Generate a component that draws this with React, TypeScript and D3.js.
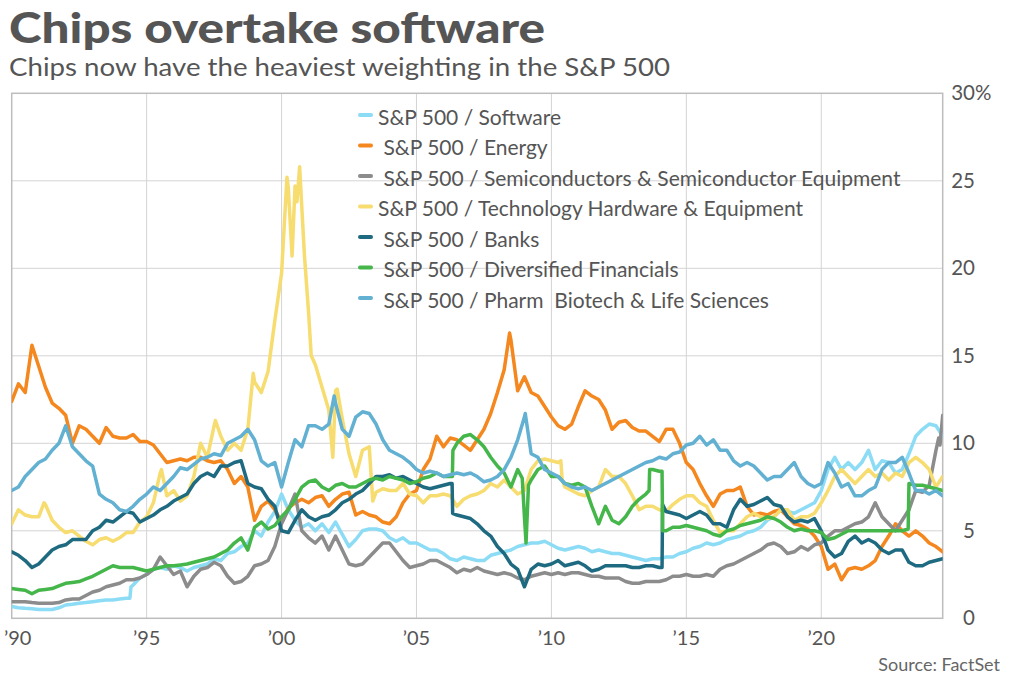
import React from "react";
import * as d3 from "d3";

// ---- data (S&P 500 weights, %) ----
const quarters: number[] = d3.range(0, 139).map((i) => 1990 + i * 0.25);

const softwareVals = [
  0.67, 0.6, 0.57, 0.55, 0.5, 0.5, 0.5, 0.6, 0.76, 0.8, 0.86, 0.9, 0.95, 1.0, 1.05, 1.05,
  1.1, 1.15, 1.9, 2.3, 2.5, 2.8, 2.9, 2.8, 3.0, 2.9, 2.7, 2.9, 3.0, 3.1, 3.4, 3.3,
  3.7, 3.8, 4.1, 4.3, 5.0, 4.7, 5.5, 6.1, 7.1, 6.2, 5.6, 5.2, 5.4, 5.0, 5.4, 4.9,
  5.5, 4.8, 4.1, 4.5, 5.0, 5.1, 5.1, 5.0, 4.6, 4.4, 4.6, 4.3, 4.3, 4.1, 3.9, 3.9,
  3.7, 3.4, 3.3, 3.5, 3.4, 3.3, 3.3, 3.6, 3.7, 3.8, 3.9, 4.1, 4.2, 4.3, 4.3, 4.4,
  4.2, 4.0, 3.9, 4.0, 4.1, 4.0, 3.8, 3.9, 3.8, 3.7, 3.7, 3.6, 3.5, 3.4, 3.3, 3.4,
  3.4, 3.5, 3.5, 3.7, 3.8, 4.0, 4.1, 4.3, 4.2, 4.3, 4.5, 4.6, 4.7, 4.9, 5.0, 5.2,
  5.6, 5.8, 6.2, 6.1, 6.0, 6.2, 6.4, 6.6, 7.3, 8.5, 9.2, 8.5, 8.9, 8.5, 8.9, 9.6,
  8.5, 9.0, 8.9, 8.3, 8.5, 9.4, 10.4, 10.8, 11.1, 11.0, 10.4,
];
const softwareExtra: [number, number][] = [[1994.38, 1.15], [1994.42, 1.8]];

const energyVals = [
  12.4, 13.4, 12.9, 15.6, 14.4, 13.2, 12.3, 12.0, 11.6, 10.0, 11.0, 10.8, 10.4, 10.0, 10.9, 10.4,
  10.3, 10.3, 10.5, 10.1, 10.1, 9.9, 9.4, 8.9, 9.0, 9.1, 9.0, 9.2, 9.2, 9.0, 8.9, 9.0,
  8.5, 7.7, 8.1, 7.5, 5.6, 6.4, 6.7, 6.2, 5.5, 6.3, 6.6, 6.8, 6.6, 6.9, 7.0, 6.4,
  6.8, 7.1, 7.2, 5.9, 6.1, 5.9, 5.8, 5.5, 5.4, 5.8, 6.6, 7.1, 7.3, 8.5, 9.1, 10.4,
  9.8, 10.3, 10.2, 9.9, 9.6, 10.2, 10.8, 11.7, 12.9, 14.2, 15.9, 13.0, 13.8, 12.9, 12.7, 12.1,
  11.5, 11.0, 10.8, 11.1, 12.1, 13.0, 12.7, 12.5, 11.9, 10.8, 11.2, 11.3, 10.9, 10.7, 10.7, 10.4,
  10.1, 10.8, 10.8, 10.0, 8.9, 8.5, 7.7, 7.0, 6.4, 7.1, 7.3, 7.3, 7.5, 6.4, 5.9, 6.0,
  5.9, 6.1, 6.2, 5.8, 5.4, 5.3, 5.1, 4.7, 4.1, 2.8, 3.1, 2.2, 2.8, 2.9, 2.8, 3.0,
  3.3, 4.1, 4.7, 5.4, 5.0, 4.7, 5.0, 4.7, 4.3, 4.1, 3.8,
];
const energyExtra: [number, number][] = [[2008.45, 16.3]];

const semisVals = [
  0.95, 0.95, 0.95, 0.9, 0.86, 0.86, 0.86, 0.9, 1.05, 1.1, 1.1, 1.3, 1.5, 1.6, 1.8, 1.9,
  2.0, 2.2, 2.2, 2.3, 2.5, 2.8, 3.5, 3.0, 2.5, 2.7, 1.8, 2.4, 2.8, 2.9, 3.2, 3.0,
  2.4, 2.0, 2.1, 2.4, 3.0, 3.1, 3.3, 4.1, 5.4, 6.2, 7.1, 5.0, 4.6, 4.3, 4.7, 3.9,
  4.7, 3.9, 3.1, 3.0, 3.1, 3.5, 3.9, 4.3, 4.3, 3.8, 3.3, 2.9, 3.0, 3.1, 3.3, 3.3,
  3.1, 2.9, 2.6, 2.8, 2.7, 2.9, 2.7, 2.6, 2.5, 2.6, 2.5, 2.3, 2.2, 2.4, 2.5, 2.6,
  2.5, 2.6, 2.5, 2.6, 2.6, 2.5, 2.4, 2.4, 2.3, 2.3, 2.3, 2.1, 2.0, 2.0, 2.1, 2.1,
  2.1, 2.2, 2.4, 2.4, 2.5, 2.4, 2.4, 2.5, 2.4, 2.8, 3.0, 3.1, 3.3, 3.5, 3.7, 3.9,
  4.2, 4.3, 4.1, 3.7, 3.8, 4.1, 3.9, 4.2, 4.3, 4.7, 5.0, 5.0, 5.2, 5.4, 5.5, 5.8,
  6.6, 5.8, 5.4, 5.0, 5.6, 6.2, 7.3, 7.2, 7.6, 9.6, 11.6,
];
const semisExtra: [number, number][] = [[2024.35, 10.3], [2024.4, 9.9]];

const techVals = [
  5.4, 6.2, 5.9, 5.8, 5.8, 6.5, 5.6, 5.2, 4.9, 5.0, 4.7, 4.4, 4.2, 4.5, 4.6, 4.4,
  4.6, 4.9, 4.9, 5.5, 5.8, 6.6, 8.3, 7.0, 7.3, 6.7, 7.0, 8.1, 10.0, 9.2, 11.0, 10.4,
  9.6, 10.0, 9.6, 10.8, 13.5, 12.9, 14.1, 17.0, 19.7, 24.6, 24.7, 23.5, 17.5, 14.5, 13.2, 11.9,
  13.0, 11.4, 9.4, 8.1, 9.6, 9.8, 7.2, 7.4, 7.3, 7.3, 7.7, 7.1, 7.0, 6.6, 7.0, 7.0,
  7.1, 7.0, 6.4, 6.8, 7.0, 7.1, 7.3, 7.7, 7.5, 7.9, 7.5, 7.1, 7.3, 8.5, 9.0, 9.1,
  9.0, 8.9, 7.5, 7.3, 7.1, 7.0, 7.3, 7.5, 8.5, 8.1, 8.1, 7.7, 7.0, 6.2, 6.4, 6.4,
  6.2, 6.1, 6.5, 6.8, 7.0, 7.0, 6.6, 6.4, 5.6, 4.9, 5.0, 5.0, 5.4, 5.8, 6.0, 5.8,
  5.7, 5.8, 6.2, 6.2, 5.6, 5.8, 5.8, 6.0, 6.6, 7.3, 8.1, 8.5, 8.1, 7.7, 8.1, 8.5,
  8.1, 8.3, 7.9, 8.3, 8.1, 8.9, 9.2, 8.9, 8.5, 7.5, 8.1,
];
const techExtra: [number, number][] = [
  [1991.2, 6.6], [1995.55, 8.5], [1997.55, 11.3], [1998.95, 14.0],
  [2000.2, 25.2], [2000.39, 20.7], [2000.57, 23.8], [2000.67, 25.8], [2000.85, 20.7],
  [2001.1, 15.0], [2001.9, 9.2], [2002.06, 13.1], [2003.38, 6.7], [2010.35, 9.0], [2010.4, 7.9],
];

const banksVals = [
  3.8, 3.6, 3.3, 2.9, 3.1, 3.5, 3.9, 4.1, 4.2, 4.5, 4.5, 4.5, 5.0, 5.2, 5.6, 5.5,
  5.8, 6.1, 6.0, 5.5, 5.7, 5.9, 6.2, 6.4, 6.7, 6.9, 7.1, 7.7, 8.1, 8.3, 8.1, 8.7,
  8.7, 8.9, 9.0, 7.7, 7.5, 7.4, 6.8, 6.4, 5.0, 4.9, 5.6, 6.2, 5.8, 5.6, 5.8, 5.9,
  6.2, 6.6, 6.8, 7.1, 7.3, 7.7, 8.1, 8.1, 8.2, 8.0, 8.1, 7.9, 7.7, 7.5, 7.4, 7.5,
  7.6, 7.7, 5.9, 5.8, 5.7, 5.4, 5.0, 4.7, 4.1, 3.7, 3.1, 2.8, 1.8, 2.8, 3.1, 3.0,
  3.1, 3.3, 3.0, 3.1, 3.2, 3.0, 2.7, 2.8, 3.0, 3.0, 3.0, 3.0, 2.9, 2.9, 3.0, 3.0,
  2.9, 6.1, 6.0, 5.9, 5.7, 5.9, 6.1, 5.9, 5.4, 5.4, 5.2, 6.2, 6.8, 6.4, 6.5, 6.7,
  6.9, 6.5, 6.4, 5.8, 5.5, 5.6, 5.5, 5.7, 5.0, 3.9, 3.5, 3.7, 4.4, 4.7, 4.3, 4.5,
  4.3, 3.9, 3.7, 3.9, 3.9, 3.2, 3.0, 3.0, 3.2, 3.3, 3.4,
];
const banksExtra: [number, number][] = [
  [2006.32, 7.7], [2006.34, 6.0], [2014.1, 2.9], [2014.12, 6.5],
];

const divFinVals = [
  1.7, 1.65, 1.6, 1.4, 1.6, 1.65, 1.7, 1.85, 2.0, 2.05, 2.1, 2.25, 2.4, 2.6, 2.8, 3.0,
  2.9, 2.9, 2.9, 2.8, 2.7, 2.8, 2.9, 3.0, 3.0, 3.05, 3.1, 3.2, 3.3, 3.4, 3.5, 3.7,
  3.9, 4.3, 4.6, 3.9, 5.2, 5.5, 5.1, 5.3, 5.8, 6.2, 6.8, 7.5, 7.8, 7.9, 7.5, 7.3,
  7.6, 7.7, 7.5, 7.5, 7.7, 7.9, 8.0, 7.9, 8.1, 8.0, 7.9, 7.7, 7.8, 8.0, 8.1, 8.3,
  8.1, 8.1, 10.0, 10.4, 10.5, 10.2, 9.8, 9.2, 8.7, 8.3, 7.5, 8.5, 5.8, 7.9, 8.5, 8.7,
  8.1, 8.1, 7.7, 7.6, 7.7, 7.5, 6.4, 5.4, 6.4, 5.6, 5.4, 5.8, 6.4, 6.8, 7.1, 8.5,
  8.4, 5.0, 5.2, 5.2, 5.3, 5.2, 5.1, 5.0, 4.8, 4.7, 5.0, 5.1, 5.3, 5.4, 5.5, 5.6,
  5.8, 5.7, 5.5, 5.2, 5.0, 5.1, 5.0, 5.0, 4.9, 4.5, 4.6, 4.8, 5.0, 5.0, 5.0, 5.0,
  5.0, 5.0, 5.0, 5.0, 5.0, 7.7, 7.6, 7.6, 7.5, 7.4, 7.3,
];
const divFinExtra: [number, number][] = [
  [2006.33, 8.1], [2006.35, 9.6], [2008.92, 8.0], [2009.06, 4.3], [2009.15, 7.6],
  [2013.62, 7.3], [2013.64, 8.5], [2014.1, 8.4], [2014.12, 5.0], [2023.22, 5.1],
];

const pharmaVals = [
  7.3, 7.5, 8.1, 8.5, 8.9, 9.1, 9.6, 10.0, 11.0, 9.8, 9.4, 9.0, 8.7, 7.1, 6.8, 6.6,
  6.2, 6.1, 6.4, 6.8, 7.1, 7.5, 7.3, 7.7, 8.1, 8.6, 8.5, 8.8, 9.1, 9.2, 9.4, 9.3,
  10.0, 10.2, 10.4, 10.8, 10.2, 9.0, 8.7, 8.9, 7.5, 8.9, 10.2, 9.8, 11.0, 11.0, 10.8, 11.1,
  12.3, 10.8, 10.4, 11.5, 11.8, 11.7, 11.1, 10.2, 9.6, 9.4, 9.2, 8.9, 8.5, 8.3, 8.4, 8.3,
  8.1, 8.2, 8.3, 8.2, 8.3, 8.1, 7.8, 7.9, 8.1, 8.5, 9.2, 10.2, 11.5, 9.4, 9.2, 8.5,
  8.3, 8.1, 7.7, 7.5, 7.4, 7.5, 7.3, 7.5, 7.7, 7.9, 8.1, 8.3, 8.5, 8.7, 8.9, 9.0,
  9.2, 9.1, 9.4, 9.5, 9.9, 10.0, 10.4, 9.9, 10.2, 9.6, 9.6, 9.0, 8.7, 8.9, 8.7, 8.3,
  7.9, 8.1, 8.1, 8.5, 8.9, 8.1, 7.7, 7.5, 7.7, 8.9, 8.3, 7.5, 7.7, 7.0, 7.0, 7.3,
  7.5, 8.5, 8.9, 8.9, 9.2, 8.3, 7.3, 7.3, 7.1, 7.3, 7.0,
];
const pharmaExtra: [number, number][] = [[2001.95, 12.7], [2009.03, 11.7]];

const seriesNames = [
  "S&P 500 / Software",
  " S&P 500 / Energy",
  " S&P 500 / Semiconductors & Semiconductor Equipment",
  "S&P 500 / Technology Hardware & Equipment",
  " S&P 500 / Banks",
  " S&P 500 / Diversified Financials",
  " S&P 500 / Pharm  Biotech & Life Sciences",
];
const seriesColors = ["#8ddcf6", "#f5871f", "#8c8c8c", "#f7dc70", "#1e6a80", "#45b64a", "#62b1d2"];
const seriesVals = [softwareVals, energyVals, semisVals, techVals, banksVals, divFinVals, pharmaVals];
const seriesExtra = [softwareExtra, energyExtra, semisExtra, techExtra, banksExtra, divFinExtra, pharmaExtra];

const yTicks = [0, 5, 10, 15, 20, 25, 30];
const xTicks = [1990, 1995, 2000, 2005, 2010, 2015, 2020];
const xTickLabels = ["\u201990", "\u201995", "\u201900", "\u201905", "\u201910", "\u201915", "\u201920"];

const W = 1024;
const H = 691;
const FONT = "Lato, 'Open Sans', sans-serif";
const TEXT = "#555555";

export default function App() {
  const x = d3.scaleLinear().domain([1990, 2024.5]).range([11.7, 942.7]);
  const y = d3.scaleLinear().domain([0, 30]).range([618.3, 93.3]);
  const [x0, x1] = x.range();
  const [yb, yt] = y.range();

  const line = d3
    .line<[number, number]>()
    .x((d) => x(d[0]))
    .y((d) => y(d[1]))
    .curve(d3.curveLinear);

  const series = seriesVals.map((vals, i) => {
    const pts: [number, number][] = vals.map((v, j) => [quarters[j], v] as [number, number]);
    const all = pts.concat(seriesExtra[i]).sort((a, b) => a[0] - b[0]);
    return { name: seriesNames[i], color: seriesColors[i], pts: all };
  });

  return (
    <div style={{ position: "absolute", left: 0, top: 0 }}>
      <svg width={W} height={H} style={{ display: "block", background: "#fff" }} fontFamily={FONT}>
        <defs>
          <clipPath id="plot">
            <rect x={x0} y={yt} width={x1 - x0} height={yb - yt} />
          </clipPath>
        </defs>
        <text x={9} y={43} fontSize={42} fontWeight={900} fill={TEXT} textLength={536} lengthAdjust="spacingAndGlyphs">
          Chips overtake software
        </text>
        <text x={9} y={76} fontSize={25.5} fill={TEXT} textLength={661} lengthAdjust="spacingAndGlyphs">
          Chips now have the heaviest weighting in the S&amp;P 500
        </text>

        {/* grid */}
        {yTicks.slice(1, -1).map((t) => (
          <line key={"gy" + t} x1={x0} x2={x1} y1={y(t)} y2={y(t)} stroke="#d4d4d4" strokeWidth={1} />
        ))}
        {xTicks.slice(1).map((t) => (
          <line key={"gx" + t} x1={x(t)} x2={x(t)} y1={yt} y2={yb} stroke="#d4d4d4" strokeWidth={1} />
        ))}
        <rect x={x0} y={yt} width={x1 - x0} height={yb - yt} fill="none" stroke="#bdbdbd" strokeWidth={1.5} />

        {/* series */}
        <g clipPath="url(#plot)">
          {series.map((s) => (
            <path
              key={s.name}
              d={line(s.pts) || ""}
              fill="none"
              stroke={s.color}
              strokeWidth={3.5}
              strokeLinejoin="round"
              strokeLinecap="round"
            />
          ))}
        </g>

        {/* legend */}
        {series.map((s, i) => {
          const base = 124.5 + i * 30.5;
          return (
            <g key={"lg" + i}>
              <line x1={360} x2={371} y1={base - 9.5} y2={base - 9.5} stroke={s.color} strokeWidth={4} strokeLinecap="round" />
              <text x={378} y={base} fontSize={21} fill={TEXT} style={{ whiteSpace: "pre" }}>
                {s.name}
              </text>
            </g>
          );
        })}

        {/* right axis */}
        {yTicks.map((t) => (
          <g key={"yl" + t}>
            <text x={975} y={y(t) + 7} fontSize={20.5} fill={TEXT} textAnchor="end">
              {String(t)}
            </text>
            {t === 30 && (
              <text x={975} y={y(t) + 7} fontSize={20.5} fill={TEXT}>
                %
              </text>
            )}
          </g>
        ))}

        {/* bottom axis */}
        {xTicks.map((t, i) => (
          <text key={"xl" + t} x={i === 0 ? x(t) + 6 : x(t)} y={645} fontSize={20} fill={TEXT} textAnchor="middle">
            {xTickLabels[i]}
          </text>
        ))}

        <text x={1000} y={671} fontSize={18} fill="#666" textAnchor="end">
          Source: FactSet
        </text>
      </svg>
    </div>
  );
}
